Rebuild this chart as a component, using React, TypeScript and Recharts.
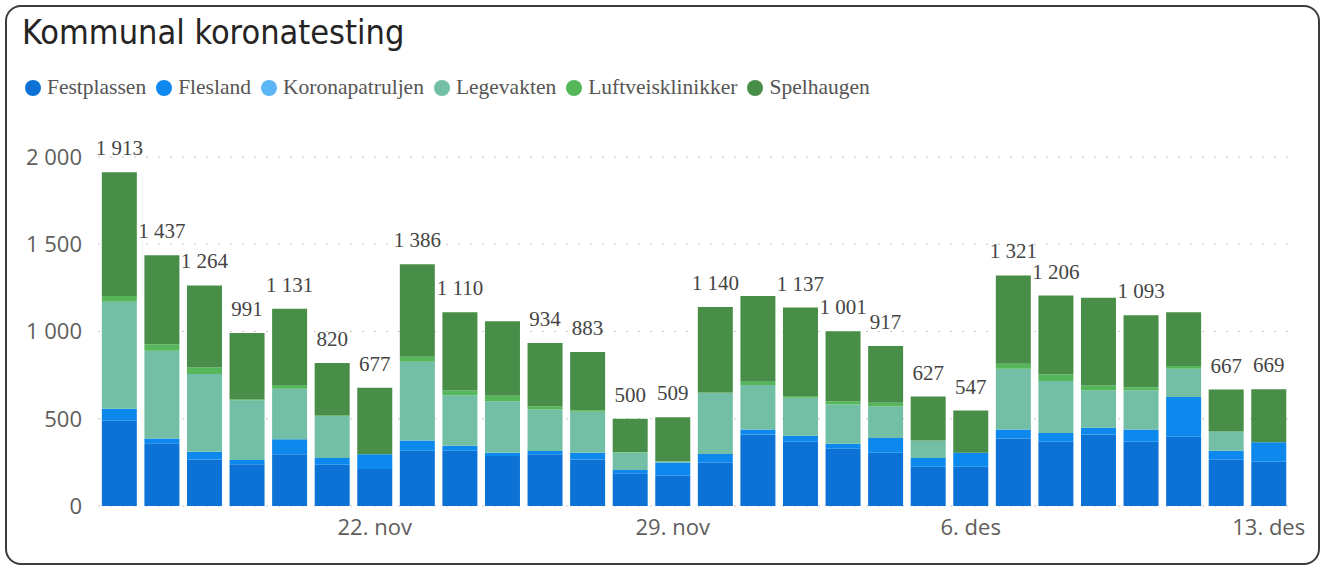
import React from "react";
import { Bar, BarChart, CartesianGrid, LabelList, XAxis, YAxis } from "recharts";

const dates = [
  "16. nov", "17. nov", "18. nov", "19. nov", "20. nov", "21. nov", "22. nov",
  "23. nov", "24. nov", "25. nov", "26. nov", "27. nov", "28. nov", "29. nov",
  "30. nov", "1. des", "2. des", "3. des", "4. des", "5. des", "6. des",
  "7. des", "8. des", "9. des", "10. des", "11. des", "12. des", "13. des",
];

const festplassen = [489, 359, 267, 239, 296, 237, 212, 317, 317, 286, 296, 267, 187, 174, 248, 410, 368, 328, 305, 225, 225, 387, 368, 410, 368, 397, 265, 254];
const flesland = [68, 28, 44, 24, 86, 38, 84, 59, 28, 19, 19, 38, 19, 76, 50, 29, 35, 29, 84, 50, 80, 52, 50, 38, 71, 227, 52, 112];
const koronapatruljen = [0, 0, 0, 0, 0, 0, 0, 0, 0, 0, 0, 0, 0, 0, 0, 0, 0, 0, 0, 0, 0, 0, 0, 0, 0, 0, 0, 0];
const legevakten = [613, 502, 445, 343, 290, 241, 0, 450, 289, 296, 238, 235, 101, 5, 349, 254, 217, 225, 182, 101, 0, 347, 298, 216, 225, 162, 110, 0];
const luftveisklinikker = [34, 38, 38, 5, 21, 3, 0, 29, 28, 31, 18, 8, 2, 0, 4, 19, 10, 19, 21, 0, 0, 29, 38, 27, 17, 17, 0, 0];
const spelhaugen = [709, 510, 470, 380, 438, 301, 381, 531, 448, 427, 363, 335, 191, 254, 489, 492, 507, 400, 325, 251, 242, 506, 452, 502, 412, 308, 240, 303];

// labels Power BI dropped because they overlapped
const hiddenLabels = ["25. nov", "1. des", "9. des", "11. des"];
const shownTicks = ["22. nov", "29. nov", "6. des", "13. des"];
const yTicks = [0, 500, 1000, 1500, 2000];

const series = [
  { key: "Festplassen", values: festplassen, color: "#0C72D6" },
  { key: "Flesland", values: flesland, color: "#0D89EE" },
  { key: "Koronapatruljen", values: koronapatruljen, color: "#5CB6F6" },
  { key: "Legevakten", values: legevakten, color: "#72BFA6" },
  { key: "Luftveisklinikker", values: luftveisklinikker, color: "#55B65A" },
  { key: "Spelhaugen", values: spelhaugen, color: "#488E49" },
];

const data = dates.map((date, i) => {
  const row: Record<string, string | number> = { date };
  let total = 0;
  series.forEach((s) => {
    row[s.key] = s.values[i];
    total += s.values[i];
  });
  row.total = total;
  return row;
});

const fmt = (v: number) => v.toLocaleString("nb-NO").replace(/\s/g, " ");

const TotalLabel = (props: any) => {
  const { x, y, width, index } = props;
  const row = data[index];
  if (!row || hiddenLabels.includes(row.date as string)) return null;
  return (
    <text
      x={x + width / 2}
      y={y - 17}
      textAnchor="middle"
      fill="#454545"
      fontSize={21}
      fontFamily="'Liberation Serif', serif"
    >
      {fmt(row.total as number)}
    </text>
  );
};

export default function App() {
  return (
    <div
      style={{
        position: "absolute",
        left: 0,
        top: 0,
        width: 1324,
        height: 568,
        background: "#fff",
      }}
    >
      <div
        style={{
          position: "absolute",
          left: 5,
          top: 5,
          width: 1311,
          height: 556,
          border: "2px solid #3c3c3c",
          borderRadius: 16,
        }}
      />
      <div
        style={{
          position: "absolute",
          left: 22,
          top: 12,
          fontFamily: "'DejaVu Sans Condensed', 'DejaVu Sans', sans-serif",
          fontSize: 34,
          color: "#252423",
          whiteSpace: "nowrap",
        }}
      >
        Kommunal koronatesting
      </div>
      <div
        style={{
          position: "absolute",
          left: 25,
          top: 75,
          display: "flex",
          alignItems: "center",
          fontFamily: "'Liberation Serif', serif",
          fontSize: 21.5,
          color: "#555",
          whiteSpace: "nowrap",
        }}
      >
        {series.map((s) => (
          <span
            key={s.key}
            style={{ display: "flex", alignItems: "center", marginRight: 10 }}
          >
            <span
              style={{
                width: 16,
                height: 16,
                borderRadius: "50%",
                background: s.color,
                display: "inline-block",
                marginRight: 6,
              }}
            />
            {s.key}
          </span>
        ))}
      </div>
      <div style={{ position: "absolute", left: 0, top: 0 }}>
        <BarChart
          width={1324}
          height={568}
          data={data}
          margin={{ top: 157, right: 34, bottom: 22, left: 0 }}
          barCategoryGap="9%"
        >
          <CartesianGrid
            vertical={false}
            stroke="#c4c4c4"
            strokeDasharray="2 10"
          />
          <XAxis
            dataKey="date"
            axisLine={false}
            tickLine={false}
            interval={0}
            height={40}
            tickMargin={7}
            tick={{ fill: "#605E5C", fontSize: 22, fontFamily: "'Open Sans', sans-serif" }}
            tickFormatter={(v: string) => (shownTicks.includes(v) ? v : "")}
          />
          <YAxis
            width={98}
            domain={[0, 2000]}
            ticks={yTicks}
            axisLine={false}
            tickLine={false}
            tickMargin={10}
            tick={{ fill: "#605E5C", fontSize: 22, fontFamily: "'Open Sans', sans-serif" }}
            tickFormatter={(v: number) => fmt(v)}
          />
          {series.map((s, i) => (
            <Bar
              key={s.key}
              dataKey={s.key}
              stackId="a"
              fill={s.color}
              isAnimationActive={false}
            >
              {i === series.length - 1 && (
                <LabelList dataKey="total" content={TotalLabel} />
              )}
            </Bar>
          ))}
        </BarChart>
      </div>
    </div>
  );
}
